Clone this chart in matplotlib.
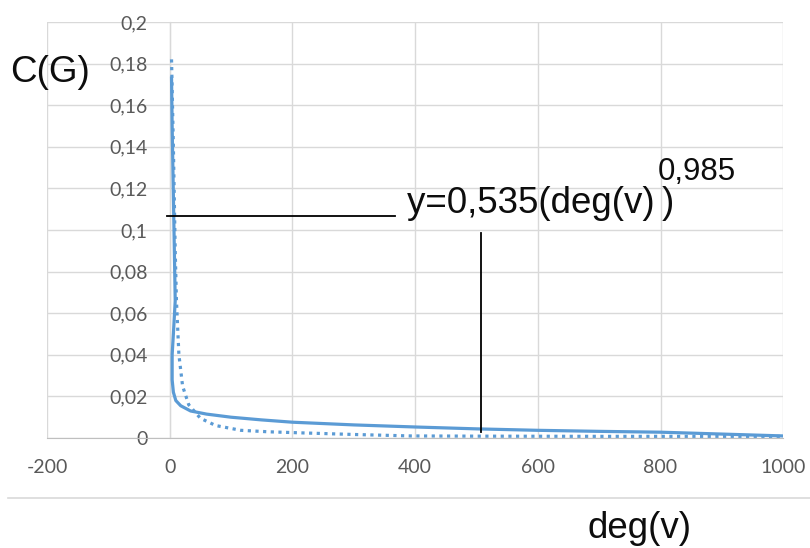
import matplotlib.pyplot as plt
from matplotlib.lines import Line2D
from matplotlib.ticker import FuncFormatter

# values (Excel style chart)
solid_x = [3, 4, 7, 9, 6, 4, 4, 6, 10, 18, 34, 60, 100, 150, 200, 300, 400, 500, 600, 700, 800, 900, 1000]
solid_y = [0.173, 0.15, 0.10, 0.066, 0.05, 0.04, 0.028, 0.022, 0.018, 0.0155, 0.013, 0.0115, 0.0100,
           0.0087, 0.0076, 0.0063, 0.0053, 0.0044, 0.0037, 0.0032, 0.0028, 0.0019, 0.0010]

dotted_x = [3, 6, 9, 11, 15, 21, 31, 50, 75, 116, 160, 212, 300, 392, 500, 700, 1000]
dotted_y = [0.182, 0.14, 0.09, 0.066, 0.04, 0.025, 0.016, 0.0095, 0.006, 0.0037, 0.0030,
            0.0025, 0.0017, 0.0010, 0.0009, 0.0008, 0.0008]

x_ticks = [-200, 0, 200, 400, 600, 800, 1000]
y_ticks = [0, 0.02, 0.04, 0.06, 0.08, 0.1, 0.12, 0.14, 0.16, 0.18, 0.2]

eq_text = "y=0,535(deg(v)\u2009)"
exp_text = "0,985"

blue = '#5B9BD5'
grid_c = '#d9d9d9'
axis_c = '#bfbfbf'
tick_c = '#595959'
big_font = 'Liberation Sans'

fig = plt.figure(figsize=(8.1, 5.48), dpi=100)
ax = fig.add_axes([0.058, 0.2007, 0.909, 0.7593])

ax.plot(solid_x, solid_y, color=blue, linewidth=2.3, solid_joinstyle='round')
ax.plot(dotted_x, dotted_y, color=blue, linewidth=2.3, linestyle=(0, (1, 1.4)))

ax.set_xlim(-200, 1000)
ax.set_ylim(0, 0.2)
ax.set_xticks(x_ticks)
ax.set_yticks(y_ticks)

def comma_fmt(v, pos):
    s = ('%.2f' % v).rstrip('0').rstrip('.')
    return s.replace('.', ',')

ax.yaxis.set_major_formatter(FuncFormatter(comma_fmt))
ax.xaxis.set_major_formatter(FuncFormatter(lambda v, p: '%d' % v))

ax.grid(True, color=grid_c, linewidth=1.0)
ax.set_axisbelow(True)

for s in ['top', 'right']:
    ax.spines[s].set_visible(False)
ax.spines['left'].set_position(('data', 0))
ax.spines['left'].set_color(axis_c)
ax.spines['bottom'].set_color(axis_c)
ax.spines['left'].set_zorder(0.5)

ax.tick_params(length=0, labelcolor=tick_c, labelsize=14)
ax.tick_params(axis='y', pad=16)
ax.tick_params(axis='x', pad=15)
for lab in ax.get_xticklabels() + ax.get_yticklabels():
    lab.set_fontfamily(['Lato', 'DejaVu Sans'])

# annotation shapes from the original chart
ax.plot([-5, 368], [0.1067, 0.1067], color='black', linewidth=1.3)
ax.plot([507, 507], [0.0986, 0.003], color='black', linewidth=1.3)
ax.text(386, 0.1082, eq_text, fontsize=26.5, fontfamily=[big_font, 'DejaVu Sans'], color='#0d0d0d', va='baseline')
ax.text(796, 0.124, exp_text, fontsize=22.5, fontfamily=big_font, color='#0d0d0d', va='baseline')

fig.text(0.012, 0.850, "C(G)", fontsize=26.5, fontfamily=big_font, color='#0d0d0d', va='baseline')
fig.text(0.725, 0.018, "deg(v)", fontsize=26.5, fontfamily=big_font, color='#0d0d0d', va='baseline')

fig.add_artist(Line2D([0.01, 1.0], [1 - 498 / 548, 1 - 498 / 548], color=grid_c, linewidth=1.2))

plt.savefig("out.png", dpi=100)
